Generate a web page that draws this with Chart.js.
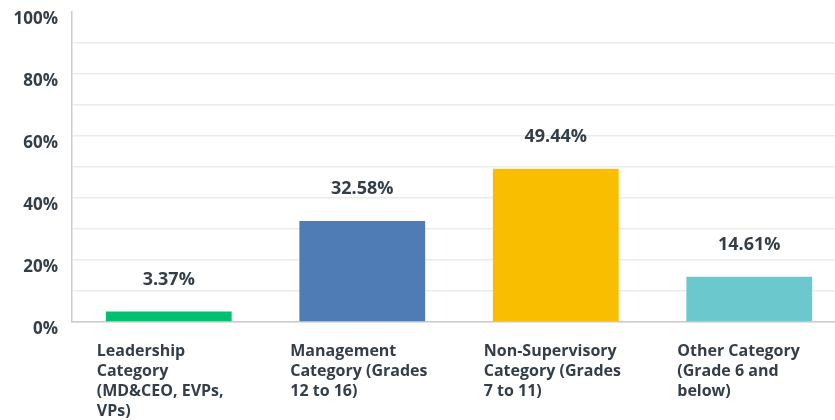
<!DOCTYPE html>
<html>
<head>
<meta charset="utf-8">
<script src="https://cdn.jsdelivr.net/npm/chart.js@4.4.1/dist/chart.umd.min.js"></script>
<style>
  html, body { margin: 0; padding: 0; background: #fff; overflow: hidden; }
  #wrap { width: 850px; height: 420px; }
</style>
</head>
<body>
<div id="wrap"><canvas id="c" width="846" height="420"></canvas></div>
<script>
const categories = [
  ["Leadership", "Category", "(MD&CEO, EVPs,", "VPs)"],
  ["Management", "Category (Grades", "12 to 16)"],
  ["Non-Supervisory", "Category (Grades", "7 to 11)"],
  ["Other Category", "(Grade 6 and", "below)"]
];
const values = [3.37, 32.58, 49.44, 14.61];
const barColors = ["#00bf6f", "#507cb6", "#f9be00", "#6bc8cd"];
const yTickLabels = ["0%", "20%", "40%", "60%", "80%", "100%"];

const textColor = "#333e48";
const fontFamily = "'Open Sans', 'DejaVu Sans', sans-serif";

const valueLabels = {
  id: "valueLabels",
  afterDatasetsDraw(chart) {
    const ctx = chart.ctx;
    const meta = chart.getDatasetMeta(0);
    ctx.save();
    ctx.font = "700 18px " + fontFamily;
    ctx.fillStyle = textColor;
    ctx.textAlign = "center";
    ctx.textBaseline = "middle";
    meta.data.forEach((bar, i) => {
      ctx.fillText(values[i].toFixed(2) + "%", bar.x, bar.y - 32);
    });
    ctx.restore();
  }
};

new Chart(document.getElementById("c"), {
  type: "bar",
  data: {
    labels: categories,
    datasets: [{
      data: values,
      backgroundColor: barColors,
      borderWidth: 0,
      categoryPercentage: 0.65,
      barPercentage: 1.0
    }]
  },
  options: {
    responsive: false,
    animation: false,
    layout: { padding: { top: 12, left: 0, right: 0, bottom: 0 } },
    plugins: { legend: { display: false }, tooltip: { enabled: false } },
    scales: {
      x: {
        grid: { display: false, drawTicks: false },
        border: { display: true, color: "#cccccc", width: 1.5 },
        ticks: {
          align: "start",
          labelOffset: -72,
          padding: 19,
          color: textColor,
          font: { family: fontFamily, size: 16, weight: "700", lineHeight: 1.25 },
          maxRotation: 0,
          autoSkip: false
        },
        afterFit(s) { s.height = 98; s.paddingLeft = 0; s.paddingRight = 0; }
      },
      y: {
        min: 0,
        max: 100,
        grid: {
          drawTicks: false,
          color: ctx => (ctx.tick && ctx.tick.value === 100) ? "rgba(0,0,0,0)" : "#ebebeb",
          lineWidth: 1.5
        },
        border: { display: true, color: "#cccccc", width: 1.5 },
        ticks: {
          stepSize: 10,
          padding: 14,
          labelOffset: 7,
          color: textColor,
          font: { family: fontFamily, size: 17, weight: "700" },
          callback: (v) => (v % 20 === 0 ? yTickLabels[v / 20] : "")
        },
        afterFit(s) { s.width = 72; s.paddingTop = 0; s.paddingBottom = 0; }
      }
    }
  },
  plugins: [valueLabels]
});
</script>
</body>
</html>
